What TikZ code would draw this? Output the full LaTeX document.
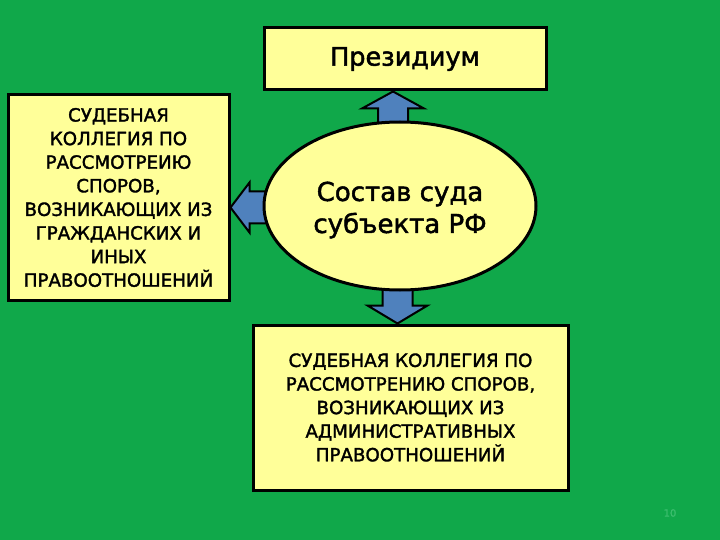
\documentclass[tikz,border=0pt]{standalone}
\usepackage{fontspec}
\setmainfont{DejaVu Sans}[FakeBold=1.8]
\usetikzlibrary{shapes.geometric,calc}
\definecolor{bggreen}{RGB}{16,168,74}
\definecolor{boxyellow}{RGB}{255,255,153}
\definecolor{arrowblue}{RGB}{79,129,189}
\definecolor{pagegreen}{RGB}{60,190,110}
\pgfdeclarelayer{bg}
\pgfdeclarelayer{arr}
\pgfsetlayers{bg,arr,main}
\tikzset{
  box/.style={draw=black, line width=3pt, fill=boxyellow, align=center, inner sep=0pt},
  fatarrow/.style={draw=black, line width=2pt, fill=arrowblue, line join=miter},
  smalltext/.style={font=\fontsize{18.2}{23.6}\selectfont},
}
\begin{document}
\begin{tikzpicture}[x=1pt,y=-1pt]
\begin{pgfonlayer}{bg}
\fill[bggreen] (0,0) rectangle (720,540);
\end{pgfonlayer}
\useasboundingbox (0,0) rectangle (720,540);

\node[box, minimum width=282pt, minimum height=62pt, font=\fontsize{25.5}{30}\selectfont] (pres) at (405,59) {Президиум};
\node[box, minimum width=221pt, minimum height=205pt, smalltext] (left) at (118.5,197.5)
  {СУДЕБНАЯ\\КОЛЛЕГИЯ ПО\\РАССМОТРЕИЮ\\СПОРОВ,\\ВОЗНИКАЮЩИХ ИЗ\\ГРАЖДАНСКИХ И\\ИНЫХ\\ПРАВООТНОШЕНИЙ};
\node[box, ellipse, minimum width=272pt, minimum height=168pt] (ell) at (400,206) {};
\node[align=center, inner sep=0pt, font=\fontsize{26}{32}\selectfont] (elltext) at ($(ell.center)+(0,4)$)
  {Состав суда\\субъекта РФ};
\node[box, minimum width=315pt, minimum height=165pt, smalltext] (bot) at (410.5,407.5)
  {СУДЕБНАЯ КОЛЛЕГИЯ ПО\\РАССМОТРЕНИЮ СПОРОВ,\\ВОЗНИКАЮЩИХ ИЗ\\АДМИНИСТРАТИВНЫХ\\ПРАВООТНОШЕНИЙ};

\begin{pgfonlayer}{arr}
% up arrow: ellipse -> Президиум
\coordinate (ut) at ($(pres.south)+(-12,0)$);
\draw[fatarrow] (ut) -- ++(31,17) -- ++(-16,0) -- ++(0,25) -- ++(-30,0) -- ++(0,-25) -- ++(-16,0) -- cycle;
% left arrow: ellipse -> left box
\coordinate (lt) at ($(left.east)+(0,10)$);
\draw[fatarrow] (lt) -- ++(19,-25) -- ++(0,9) -- ++(30,0) -- ++(0,32) -- ++(-30,0) -- ++(0,9) -- cycle;
% down arrow: ellipse -> bottom box
\coordinate (dt) at ($(bot.north)+(-13,0)$);
\draw[fatarrow] (dt) -- ++(-30,-18) -- ++(15,0) -- ++(0,-25) -- ++(30,0) -- ++(0,25) -- ++(15,0) -- cycle;
\end{pgfonlayer}

\node[text=pagegreen, font=\fontsize{10}{12}\selectfont] (pg) at (670,513) {10};
\end{tikzpicture}
\end{document}
